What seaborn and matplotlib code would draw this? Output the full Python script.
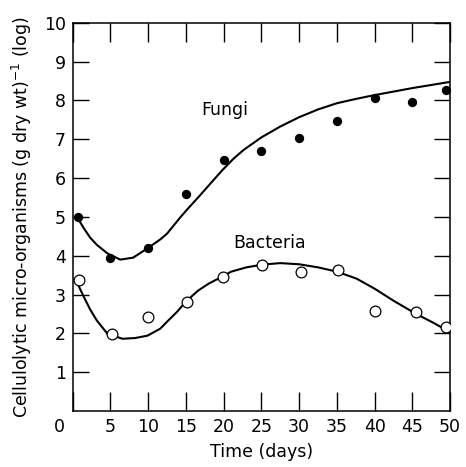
import seaborn as sns
import matplotlib.pyplot as plt
import matplotlib.transforms as mtransforms
import pandas as pd

# measured points
fungi_x = [0.7, 5, 10, 15, 20, 25, 30, 35, 40, 45, 49.5]
fungi_y = [5.0, 3.95, 4.2, 5.6, 6.46, 6.69, 7.03, 7.47, 8.06, 7.96, 8.27]
bact_x = [0.9, 5.2, 10, 15.2, 19.9, 25.1, 30.3, 35.2, 40.1, 45.5, 49.5]
bact_y = [3.38, 1.99, 2.43, 2.82, 3.46, 3.77, 3.57, 3.62, 2.58, 2.56, 2.17]

# fitted curves
fungi_cx = [0.6, 1.5, 2.3, 3.2, 4.6, 6.3, 8, 9.9, 11.6, 12.5, 14.3, 15.2, 16.7,
            18.2, 19.8, 21.3, 22.6, 25, 27.5, 30, 32.5, 35, 37.5, 40, 42.5,
            45, 47.5, 50]
fungi_cy = [4.99, 4.7, 4.47, 4.28, 4.06, 3.9, 3.95, 4.19, 4.42, 4.57, 5.0, 5.2,
            5.52, 5.85, 6.2, 6.5, 6.72, 7.05, 7.33, 7.57, 7.77, 7.93, 8.04,
            8.14, 8.23, 8.32, 8.4, 8.48]
bact_cx = [0.6, 1.4, 2.3, 3.2, 4.6, 6.6, 8.3, 9.9, 11.6, 12.5, 13.8, 15, 16.6,
           18, 19.8, 21, 23, 25.1, 27.5, 30, 32.5, 35, 37.6, 40, 42.5, 45.5,
           47.8, 50]
bact_cy = [3.3, 2.97, 2.62, 2.33, 1.99, 1.86, 1.88, 1.94, 2.12, 2.3, 2.55, 2.82,
           3.1, 3.28, 3.46, 3.59, 3.7, 3.77, 3.81, 3.78, 3.7, 3.59, 3.41, 3.15,
           2.84, 2.5, 2.27, 2.03]

x_ticks = [0, 5, 10, 15, 20, 25, 30, 35, 40, 45, 50]
y_ticks = [1, 2, 3, 4, 5, 6, 7, 8, 9, 10]

sns.set_style("ticks")
plt.rcParams['font.family'] = ['DejaVu Sans']
for key in ["text.color", "axes.labelcolor", "xtick.color", "ytick.color",
            "axes.edgecolor"]:
    plt.rcParams[key] = "black"

fig = plt.figure(figsize=(4.66, 4.67), dpi=100)
ax = fig.add_axes([0.156, 0.12, 0.81, 0.831])

fungi_pts = pd.DataFrame({"x": fungi_x, "y": fungi_y})
bact_pts = pd.DataFrame({"x": bact_x, "y": bact_y})
fungi_curve = pd.DataFrame({"x": fungi_cx, "y": fungi_cy})
bact_curve = pd.DataFrame({"x": bact_cx, "y": bact_cy})

sns.lineplot(data=fungi_curve, x="x", y="y", ax=ax, color="black",
             linewidth=1.5, sort=False, estimator=None)
sns.lineplot(data=bact_curve, x="x", y="y", ax=ax, color="black",
             linewidth=1.5, sort=False, estimator=None)
sns.scatterplot(data=fungi_pts, x="x", y="y", ax=ax, color="black",
                s=45, linewidth=0, zorder=3)
sns.scatterplot(data=bact_pts, x="x", y="y", ax=ax, facecolor="white",
                edgecolor="black", s=60, linewidth=0.9, zorder=3)

ax.text(20.1, 7.75, "Fungi", ha="center", va="center", fontsize=12.5)
ax.text(26.1, 4.32, "Bacteria", ha="center", va="center", fontsize=12.5)

ax.set_xlim(0, 50)
ax.set_ylim(0, 10)
ax.set_xticks(x_ticks)
ax.set_yticks(y_ticks)
ax.tick_params(axis="both", direction="in", top=True, right=True,
               width=1, labelsize=12.5, pad=5)
ax.tick_params(axis="x", length=13.5)
ax.tick_params(axis="y", length=11.5)

# the corner "0" sits left of the origin
lab0 = ax.get_xticklabels()[0]
lab0.set_transform(lab0.get_transform() +
                   mtransforms.ScaledTranslation(-0.13, 0, fig.dpi_scale_trans))

for sp in ax.spines.values():
    sp.set_linewidth(1.1)

ax.set_xlabel("Time (days)", fontsize=12.5, labelpad=5)
ax.set_ylabel("Cellulolytic micro-organisms (g dry wt)$^{-1}$ (log)",
              fontsize=12.5, labelpad=7)

fig.savefig("out.png", dpi=100)
